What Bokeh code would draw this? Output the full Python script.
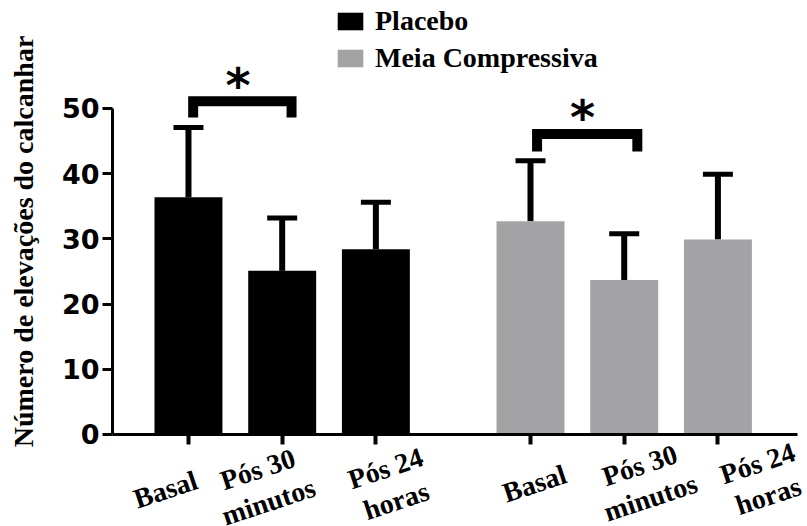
import math
from bokeh.plotting import figure
from bokeh.models import (ColumnDataSource, FixedTicker, Range1d, Whisker, TeeHead,
                          Legend, LegendItem, LinearAxis)
from bokeh.core.properties import value
from bokeh.embed import file_html
from bokeh.resources import INLINE

# ---- data ----
times = ["Basal", "Pós 30\nminutos", "Pós 24\nhoras"]
groups = ["Placebo", "Meia Compressiva"]
placebo_mean = [36.4, 25.1, 28.4]
placebo_sd = [10.7, 8.1, 7.2]
meia_mean = [32.7, 23.7, 29.9]
meia_sd = [9.3, 7.1, 10.0]
x_placebo = [1.0, 2.0, 3.0]
x_meia = [4.65, 5.65, 6.65]
y_ticks = [0, 10, 20, 30, 40, 50]
y_title = "Número de elevações do calcanhar"
# significance brackets (data units)
sig_left = [1.05, 4.72]
sig_right = [2.10, 5.79]
sig_height = [51.1, 46.1]
sig_drop = [2.5, 2.7]
star_x = [1.53, 5.205]
star_y = [54.3, 49.4]

# ---- layout / style constants ----
label_dx = [-23, -19, 15, 4, 21, 45]   # px shift of tick-label centres
label_dy = [55, 51, 50, 49, 47, 45]    # px below the x axis
BLACK = "#000000"
GRAY = "#a3a3a6"
SERIF = "Liberation Serif"

p = figure(width=807, height=526, output_backend="svg", toolbar_location=None,
           x_range=Range1d(-1.006, 7.606), y_range=Range1d(-14.11, 66.56),
           min_border_left=0, min_border_right=0, min_border_top=0,
           min_border_bottom=0, x_axis_location=None, y_axis_location=None)
p.outline_line_color = None
p.xgrid.visible = False
p.ygrid.visible = False

src_p = ColumnDataSource(dict(x=x_placebo, top=placebo_mean,
                              upper=[m + s for m, s in zip(placebo_mean, placebo_sd)]))
src_m = ColumnDataSource(dict(x=x_meia, top=meia_mean,
                              upper=[m + s for m, s in zip(meia_mean, meia_sd)]))

r1 = p.vbar(x="x", top="top", bottom=0, width=0.725, source=src_p,
            fill_color=BLACK, line_color=None)
r2 = p.vbar(x="x", top="top", bottom=0, width=0.725, source=src_m,
            fill_color=GRAY, line_color=None)

for src in (src_p, src_m):
    w = Whisker(source=src, base="x", lower="top", upper="upper", dimension="height",
                line_color=BLACK, line_width=6, lower_head=None,
                upper_head=TeeHead(size=30, line_width=5, line_color=BLACK))
    p.add_layout(w)

# significance brackets
xs = [[l, l, r, r] for l, r in zip(sig_left, sig_right)]
ys = [[h - d, h, h, h - d] for h, d in zip(sig_height, sig_drop)]
p.multi_line(xs=xs, ys=ys, line_color=BLACK, line_width=10, line_join="miter",
             line_cap="butt")
p.text(x=star_x, y=star_y, text=["*", "*"], text_font=value("DejaVu Sans"),
       text_font_style="bold", text_font_size="48px", text_align="center",
       text_baseline="middle", text_color=BLACK, y_offset=5)

# axes (placed at fixed data locations)
x_left = x_placebo[0] - 0.811
x_right = 7.5
xa = LinearAxis(fixed_location=0)
xa.ticker = FixedTicker(ticks=x_placebo + x_meia)
xa.major_label_overrides = {x: "" for x in x_placebo + x_meia}
xa.bounds = (x_left, x_right)
xa.axis_line_width = 3
xa.major_tick_line_width = 4
xa.major_tick_out = 10
xa.major_tick_in = 0
xa.minor_tick_line_color = None
p.add_layout(xa, "below")

ya = LinearAxis(fixed_location=x_left)
ya.ticker = FixedTicker(ticks=y_ticks)
ya.bounds = (0, 50)
ya.major_label_text_font = "DejaVu Sans"
ya.major_label_text_font_style = "bold"
ya.major_label_text_font_size = "27px"
ya.major_label_text_color = BLACK
ya.axis_line_width = 3
ya.major_tick_line_width = 3
ya.major_tick_out = 10
ya.major_tick_in = 0
ya.minor_tick_line_color = None
ya.major_label_standoff = 3
p.add_layout(ya, "left")

# x tick labels (rotated, two lines)
p.text(x=x_placebo + x_meia, y=[0] * 6, text=times + times, angle=0.32,
       x_offset=label_dx, y_offset=label_dy,
       text_font=value(SERIF), text_font_style="bold", text_font_size="28px",
       text_align="center", text_baseline="middle", text_line_height=1.1,
       text_color=BLACK)

# y axis title
p.text(x=[x_placebo[0] - 1.765], y=[29.6], text=[y_title], angle=math.pi / 2,
       text_font=value(SERIF), text_font_style="bold", text_font_size="28px",
       text_align="center", text_baseline="middle", text_color=BLACK)

legend = Legend(items=[LegendItem(label=groups[0], renderers=[r1]),
                       LegendItem(label=groups[1], renderers=[r2])],
                location=(334, 452), orientation="vertical",
                glyph_width=32, glyph_height=22, label_height=22,
                spacing=5, padding=0, margin=0, label_standoff=9,
                label_text_font=SERIF, label_text_font_style="bold",
                label_text_font_size="28px", label_text_color=BLACK,
                border_line_color=None, background_fill_alpha=0)
p.add_layout(legend)

open("out.html", "w").write(file_html(p, INLINE))
